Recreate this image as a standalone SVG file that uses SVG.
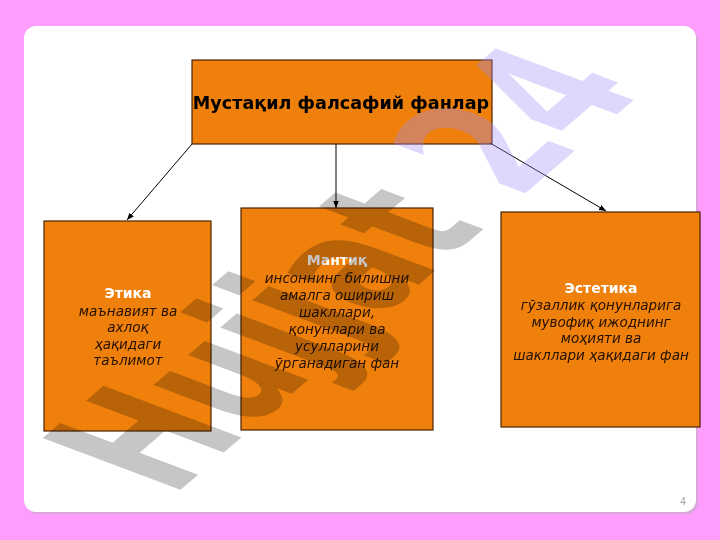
<svg xmlns="http://www.w3.org/2000/svg" width="720" height="540" viewBox="0 0 720 540">
  <defs>
    <marker id="arr" viewBox="0 0 10 10" refX="10" refY="5" markerWidth="7" markerHeight="7" orient="auto" markerUnits="userSpaceOnUse">
      <path d="M0,1 L10,5 L0,9 z" fill="#000"/>
    </marker>
  </defs>
  <style>
    .box { fill: #ef800b; stroke: #4a2200; stroke-width: 1.2; }
    .title { font-family: "DejaVu Sans", Verdana, sans-serif; font-weight: bold; font-size: 17.6px; fill: #000; text-anchor: middle; }
    .lab { font-family: "DejaVu Sans", Verdana, sans-serif; font-weight: bold; font-size: 14px; fill: #fff; text-anchor: middle; }
    .body { font-family: "DejaVu Sans", Verdana, sans-serif; font-style: italic; font-size: 13.5px; fill: #221000; text-anchor: middle; }
    .conn line { stroke: #000; stroke-width: 1; marker-end: url(#arr); }
    .wm { font-family: "DejaVu Sans", Verdana, sans-serif; font-weight: bold; font-size: 100px; }
  </style>
  <rect x="0" y="0" width="720" height="540" fill="#fd9dfd"/>
  <rect x="26" y="28" width="672" height="486" rx="12" fill="#d9a6d9"/>
  <rect x="24" y="26" width="672" height="486" rx="12" fill="#ffffff"/>

  <g id="root">
    <rect class="box" x="192" y="60" width="300" height="84"/>
    <text class="title" x="341" y="109">Мустақил фалсафий фанлар</text>
  </g>
  <g id="etika">
    <rect class="box" x="44" y="221" width="167" height="210"/>
    <text class="lab" x="128" y="298">Этика</text>
    <text class="body" x="128" y="316">маънавият ва</text>
    <text class="body" x="128" y="332">ахлоқ</text>
    <text class="body" x="128" y="349">ҳақидаги</text>
    <text class="body" x="128" y="365">таълимот</text>
  </g>
  <g id="mantiq">
    <rect class="box" x="241" y="208" width="192" height="222"/>
    <text class="lab" x="337" y="265">Мантиқ</text>
    <text class="body" x="337" y="283">инсоннинг билишни</text>
    <text class="body" x="337" y="300">амалга ошириш</text>
    <text class="body" x="337" y="317">шакллари,</text>
    <text class="body" x="337" y="334">қонунлари ва</text>
    <text class="body" x="337" y="351">усулларини</text>
    <text class="body" x="337" y="368">ўрганадиган фан</text>
  </g>
  <g id="estetika">
    <rect class="box" x="501" y="212" width="199" height="215"/>
    <text class="lab" x="601" y="293">Эстетика</text>
    <text class="body" x="601" y="310">гўзаллик қонунларига</text>
    <text class="body" x="601" y="327">мувофиқ ижоднинг</text>
    <text class="body" x="601" y="343">моҳияти ва</text>
    <text class="body" x="601" y="360">шакллари ҳақидаги фан</text>
  </g>

  <g id="connectors" class="conn">
    <line x1="192" y1="144" x2="127" y2="220"/>
    <line x1="336" y1="144" x2="336" y2="208"/>
    <line x1="490" y1="143" x2="606" y2="211"/>
  </g>

  <g id="watermark" transform="matrix(0.93 -0.8 1.89 0.71 172 497)">
    <text class="wm" x="0" y="0" fill="#c6c6c6" style="mix-blend-mode:multiply">Hujjat</text>
    <text class="wm" x="372" y="0" fill="#a48cf5" fill-opacity="0.35">24</text>
  </g>

  <text x="683" y="505" font-family="Liberation Sans, sans-serif" font-size="10" fill="#9a9a9a" text-anchor="middle">4</text>
</svg>
